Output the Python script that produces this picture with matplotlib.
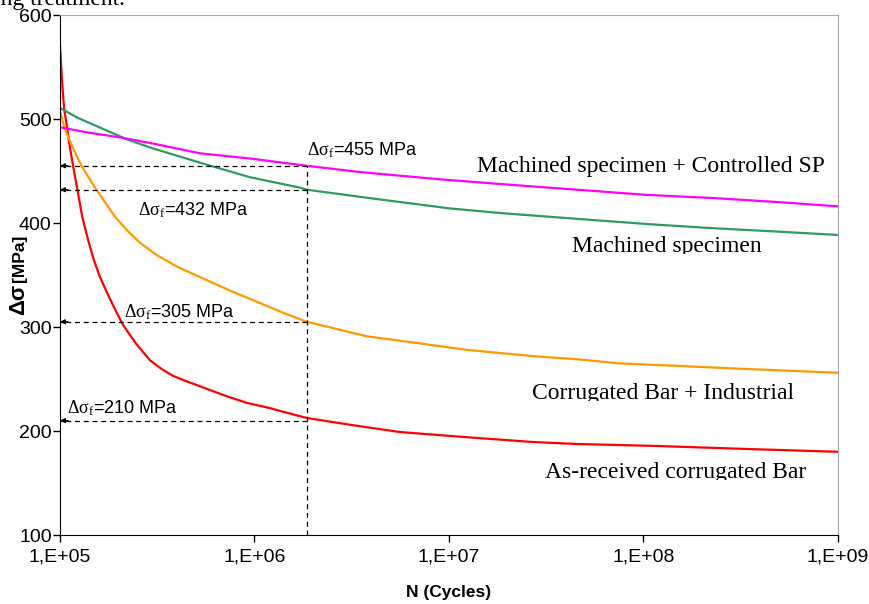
import matplotlib
matplotlib.use('Agg')
import matplotlib.pyplot as plt
from matplotlib.ticker import NullLocator
from matplotlib.transforms import Bbox

plt.rcParams['font.family'] = ['Liberation Sans', 'DejaVu Sans']
plt.rcParams['mathtext.fontset'] = 'custom'
plt.rcParams['mathtext.rm'] = 'Liberation Serif'
plt.rcParams['mathtext.it'] = 'Liberation Serif:italic'

# values (N in cycles, stress range in MPa)
red_n = [1.0e5, 1.024e5, 1.0485e5, 1.0864e5, 1.1257e5, 1.1802e5, 1.2376e5, 1.2977e5,
         1.3929e5, 1.4957e5, 1.6059e5, 1.7447e5, 1.918e5, 2.1084e5, 2.459e5, 2.9023e5,
         3.3063e5, 3.8103e5, 4.4446e5, 5.2456e5, 7.053e5, 9.1495e5, 1.2013e6, 1.4014e6,
         1.86e6, 3.0974e6, 5.5977e6, 1.2376e7, 2.7032e7, 4.5501e7, 1.1732e8, 3.4051e8, 1.0e9]
red_s = [571, 537, 511, 492, 472, 450, 429, 407,
         384, 364, 348, 333, 317, 302, 284, 268,
         260, 253, 248, 243, 234, 227, 222, 218.5,
         212.5, 206, 199, 194, 189.4, 187.5, 185.6, 182.7, 180]

orange_n = [1.0e5, 1.061e5, 1.1663e5, 1.2977e5, 1.5136e5, 1.7039e5, 1.918e5, 2.2104e5,
            2.578e5, 3.1531e5, 4.0444e5, 5.2456e5, 7.4819e5, 1.0673e6, 1.435e6,
            1.86e6, 3.7886e6, 6.8465e6, 1.2376e7, 2.7032e7, 4.5501e7, 7.5716e7,
            1.5405e8, 3.4051e8, 1.0e9]
orange_s = [507, 490, 472, 454, 434, 420, 406, 393,
            381, 369, 357.5, 348, 335, 323, 313,
            305, 291, 284.6, 278, 272, 269, 265,
            262.5, 259.6, 256]

green_n = [1.0e5, 1.2376e5, 1.7039e5, 2.2367e5, 2.9718e5, 5.2456e5, 9.4815e5, 1.714e6,
           1.86e6, 4.263e6, 1.0119e7, 1.8291e7, 4.5501e7, 1.0423e8, 2.2773e8, 5.033e8, 1.0e9]
green_s = [510.6, 501, 489.6, 480, 472, 458, 444, 434,
           432, 423, 414, 409.6, 404, 399, 395, 391.6, 388.5]

magenta_n = [1.0e5, 1.3929e5, 2.0836e5, 3.0786e5, 5.2456e5, 9.4815e5, 1.86e6, 3.4867e6,
             8.989e6, 1.8291e7, 4.5501e7, 1.0423e8, 2.2773e8, 5.033e8, 1.0e9]
magenta_s = [492, 487, 482, 476, 467, 462, 455, 449,
             442, 437.5, 432, 427, 424, 420, 416]

n_ref = 1.86e6
ref_values = [455, 432, 305, 210]
ref_labels = [r'$\mathrm{\Delta\sigma_f}$=455 MPa', r'$\mathrm{\Delta\sigma_f}$=432 MPa',
              r'$\mathrm{\Delta\sigma_f}$=305 MPa', r'$\mathrm{\Delta\sigma_f}$=210 MPa']

curve_labels = ['Machined specimen + Controlled SP', 'Machined specimen',
                'Corrugated Bar + Industrial', 'As-received corrugated Bar']

x_ticks = [1e5, 1e6, 1e7, 1e8, 1e9]
x_ticklabels = ['1,E+05', '1,E+06', '1,E+07', '1,E+08', '1,E+09']
y_ticks = [100, 200, 300, 400, 500, 600]

fig = plt.figure(figsize=(8.7, 6.04), dpi=100)
ax = fig.add_axes([60 / 870, 1 - 535 / 604, 778 / 870, 520 / 604])

ax.plot(red_n, red_s, color='#ff0000', lw=1.6)
ax.plot(orange_n, orange_s, color='#ff9900', lw=1.6)
ax.plot(green_n, green_s, color='#2e9a62', lw=1.6)
ax.plot(magenta_n, magenta_s, color='#ff00ff', lw=1.6)

ax.set_xscale('log')
ax.set_xlim(1e5, 1e9)
ax.set_ylim(100, 600)
ax.set_xticks(x_ticks, x_ticklabels)
ax.xaxis.set_minor_locator(NullLocator())
ax.set_yticks(y_ticks)
ax.tick_params(direction='out', length=5, width=1, labelsize=14, colors='black')
ax.tick_params(axis='x', pad=5)
ax.tick_params(axis='y', pad=1)

for side in ['top', 'right']:
    ax.spines[side].set_color('#a6a6a6')
for side in ['left', 'bottom']:
    ax.spines[side].set_color('black')

ax.set_xlabel('N (Cycles)', fontsize=12.5, fontweight='bold', labelpad=14)
# y label: bigger delta-sigma, smaller unit
fig.text(19 / 870, 1 - 299 / 604, 'Δσ', rotation=90, fontsize=16, fontweight='bold',
         ha='center', va='center')
fig.text(20 / 870, 1 - 258 / 604, '[MPa]', rotation=90, fontsize=12.5, fontweight='bold',
         ha='center', va='center')

# reference lines at N_ref
dash = (0, (4, 3))
ax.plot([n_ref, n_ref], [100, max(ref_values)], color='black', lw=0.9, ls=dash)
for v in ref_values:
    ax.plot([n_ref, 1.0e5], [v, v], color='black', lw=0.9, ls=dash)
    ax.annotate('', xy=(1.0e5, v), xytext=(1.1e5, v),
                arrowprops=dict(arrowstyle='-|>', color='black', lw=0.9,
                                mutation_scale=7, shrinkA=0, shrinkB=0))

label_pos = [(1.86e6, 465), (2.518e5, 407.5), (2.133e5, 309.5), (1.086e5, 217.3)]
for (x, y), s in zip(label_pos, ref_labels):
    ax.text(x, y, s, fontsize=13, va='baseline', ha='left')

curve_pos = [(1.393e7, 449), (4.285e7, 372.5), (2.672e7, 231), (3.116e7, 155)]
clip_rows = [None, 254, 401, 480]
for (x, y), s, row in zip(curve_pos, curve_labels, clip_rows):
    t = ax.text(x, y, s, fontsize=17, family='Liberation Serif', va='baseline', ha='left')
    if row is not None:
        t.set_clip_box(Bbox.from_extents(0, 604 - row, 870, 604))
        t.set_clip_on(True)

fig.text(-6 / 870, 1 - 5 / 604, 'ing treatment.', fontsize=17, family='Liberation Serif',
         va='baseline', ha='left')

fig.savefig('out.png', dpi=100)
